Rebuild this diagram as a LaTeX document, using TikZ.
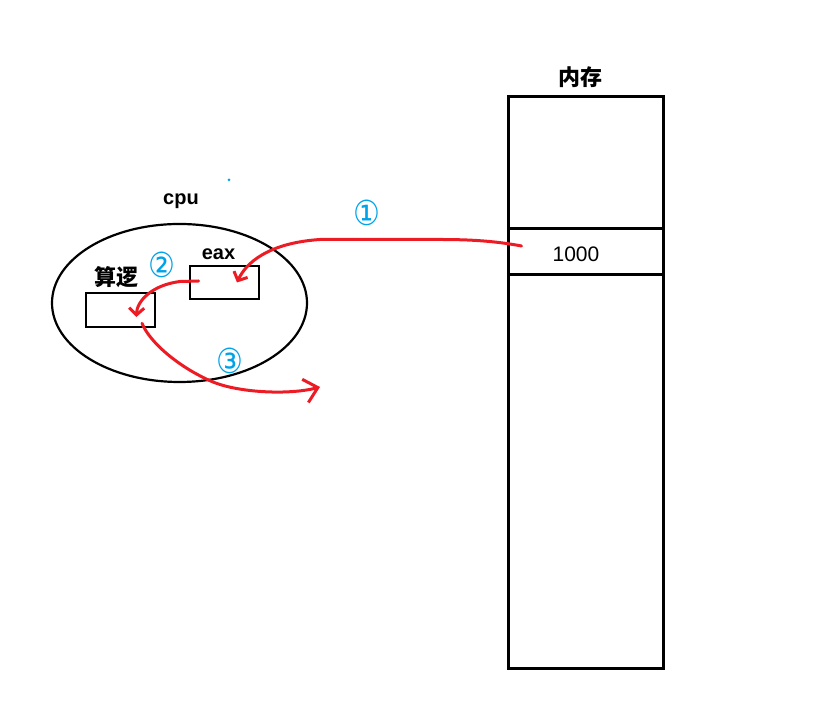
\documentclass[tikz,border=0pt]{standalone}
\usepackage{fontspec}
\setmainfont{Liberation Sans}
\newfontfamily\cjk{Noto Sans CJK SC}
\newfontfamily\numfont{DejaVu Sans}
\usepackage{xcolor}
\usepackage{tikz}
\usetikzlibrary{arrows.meta,positioning,shapes.geometric}
\definecolor{penred}{RGB}{237,28,36}
\definecolor{penblue}{RGB}{0,162,232}
\tikzset{
  membox/.style={draw=black, line width=3pt, minimum width=155pt, inner sep=0pt},
  regbox/.style={draw=black, line width=2.6pt, minimum width=69pt, minimum height=33pt, inner sep=0pt},
  cpuring/.style={ellipse, draw=black, line width=2.2pt, minimum width=255pt, minimum height=158pt, inner sep=0pt},
  reglabel/.style={font=\fontsize{20}{22}\selectfont\bfseries},
  cjklabel/.style={font=\fontsize{22}{24}\selectfont\cjk\bfseries},
  bluenum/.style={text=penblue, font=\fontsize{30}{32}\selectfont\numfont, yscale=1.15},
  redflow/.style={draw=penred, line width=3pt, line cap=round, line join=round,
    -{Straight Barb[length=7pt, width=15pt, line width=3pt]}},
  bigflow/.style={redflow, -{Straight Barb[length=13pt, width=24pt, line width=3pt]}}
}
\begin{document}
\begin{tikzpicture}[x=1pt, y=1pt]
\useasboundingbox (0,0) rectangle (836,703);

% memory
\node[membox, minimum height=572pt] (mem) at (585.5,320) {};
\node[membox, minimum height=46pt] (cell) at (585.5,451) {};
\node[font=\fontsize{21}{23}\selectfont] (val) at ([xshift=-9.5pt,yshift=-2pt]cell.center) {1000};
\node[cjklabel, above=4pt of mem, xshift=-5pt] (memlabel) {内存};

% cpu
\node[cpuring] (cpu) at (179.5,400) {};
\node[reglabel] (cpulabel) at (181,502) {cpu};
\node[regbox] (eax) at (224.5,420.5) {};
\node[reglabel, above=1pt of eax, xshift=-6pt] (eaxlabel) {eax};
\node[regbox, minimum height=34pt] (alu) at (120.5,393) {};
\node[cjklabel, above=0pt of alu, xshift=-4pt] (alulabel) {算逻};

% steps
\node[bluenum] (one) at (367,490) {①};
\node[bluenum] (two) at (162,438) {②};
\node[bluenum] (three) at (230,342) {③};
\fill[penblue] (229,523) circle (1.5pt);

\coordinate (out) at (320,316);

\draw[redflow] ([xshift=15pt,yshift=6pt]cell.west) .. controls (495,462) and (470,463.5) .. (440,463.5)
  -- (320,463.5) .. controls (268,460) and (246,440) .. ([xshift=12.5pt]eax.center);
\draw[redflow] ([xshift=10pt,yshift=1.5pt]eax.west) -- (180,421.5)
  .. controls (152,418) and (137,402) .. ([xshift=-20pt,yshift=-7pt]alu.east);
\draw[bigflow] ([xshift=21.5pt,yshift=5pt]alu.south) .. controls (150,360) and (180,335) .. (213,321)
  .. controls (240,310) and (290,308) .. (out);
\end{tikzpicture}
\end{document}
